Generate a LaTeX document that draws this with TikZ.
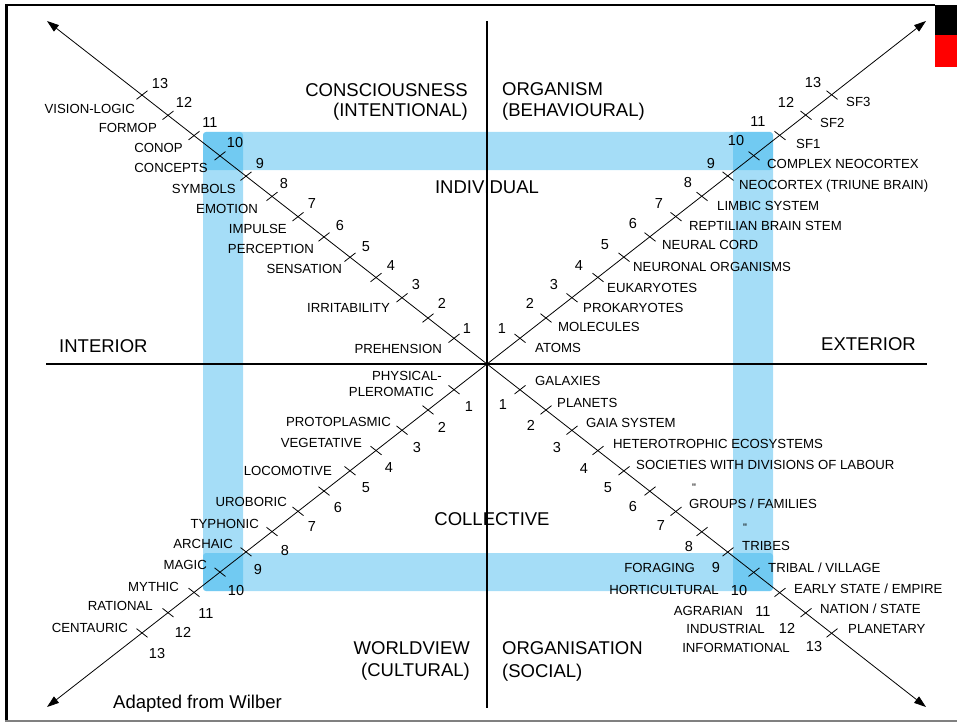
\documentclass[tikz,border=0pt]{standalone}
\usepackage{fontspec}
\setmainfont{Liberation Sans}
\newfontfamily\qfont{Liberation Sans}[Ligatures=TeXOff]
\usetikzlibrary{arrows.meta,calc}
\begin{document}
\begin{tikzpicture}[x=1pt,y=-1pt,
  big/.style={font=\fontsize{18.5}{20}\selectfont, inner sep=0pt, yshift=-6.6pt},
  lab/.style={font=\fontsize{13.2}{14}\selectfont, inner sep=0pt, yshift=-4.7pt},
  num/.style={font=\fontsize{14.5}{16}\selectfont, inner sep=0pt, anchor=base, yshift=-5.2pt},
  band/.style={fill={rgb,255:red,40;green,175;blue,235}, fill opacity=0.42, rounded corners=3pt},
  axisline/.style={line width=2pt},
  diag/.style={line width=0.8pt, -{Triangle[length=12pt,width=8pt]}},
  tickmark/.style={line width=0.8pt}]
\useasboundingbox (0,0) rectangle (957,722);
% frame
\draw[line width=2pt] (6,5.5) -- (935,5.5);
\draw[line width=3pt] (6.5,4.5) -- (6.5,721);
\draw[line width=2pt, gray] (5,720.5) -- (957,720.5);
\fill[black] (935,5) rectangle (957,35);
\fill[red] (935,35) rectangle (957,67);
% blue band
\fill[band] (203,132) rectangle (773,170);
\fill[band] (203,553) rectangle (773,591);
\fill[band] (203,132) rectangle (243,591);
\fill[band] (733,132) rectangle (773,591);
% axes
\coordinate (C) at (487,364);
\coordinate (Vt) at (487,21);
\coordinate (Vb) at (487,708);
\coordinate (Hl) at (46,364);
\coordinate (Hr) at (927,364);
\draw[axisline] (Vt) -- (Vb);
\draw[axisline] (Hl) -- (Hr);
\coordinate (TLend) at (47,21);
\coordinate (TRend) at (926,21);
\coordinate (BLend) at (47,707);
\coordinate (BRend) at (926,707);
\draw[diag] (C) -- (TLend);
\draw[diag] (C) -- (TRend);
\draw[diag] (C) -- (BLend);
\draw[diag] (C) -- (BRend);
% ticks
\foreach \k in {1,...,13}{
  \pgfmathsetmacro\dx{33+26*(\k-1)}
  \pgfmathsetmacro\dy{25.7+20.27*(\k-1)}
  \coordinate (tl\k) at (487-\dx,364-\dy);
  \coordinate (tr\k) at (487+\dx,364-\dy);
  \coordinate (bl\k) at (487-\dx,364+\dy);
  \coordinate (br\k) at (487+\dx,364+\dy);
  \draw[tickmark] ($(tl\k)+(5.5,-4.3)$) -- ($(tl\k)+(-5.5,4.3)$);
  \draw[tickmark] ($(br\k)+(5.5,-4.3)$) -- ($(br\k)+(-5.5,4.3)$);
  \draw[tickmark] ($(tr\k)+(5.5,4.3)$) -- ($(tr\k)+(-5.5,-4.3)$);
  \draw[tickmark] ($(bl\k)+(5.5,4.3)$) -- ($(bl\k)+(-5.5,-4.3)$);
}
% big labels
\node[big, anchor=base east] (cons) at (468,90) {CONSCIOUSNESS};
\node[big, anchor=base east] (inten) at (468,110) {(INTENTIONAL)};
\node[big, anchor=base west] (orgm) at (502,89) {ORGANISM};
\node[big, anchor=base west] (behav) at (502,110) {(BEHAVIOURAL)};
\node[big, anchor=base] (indiv) at (487,187) {INDIVIDUAL};
\node[big, anchor=base] (coll) at (492,519) {COLLECTIVE};
\node[big, anchor=base west] (inter) at (59,346) {INTERIOR};
\node[big, anchor=base west] (exter) at (821,344) {EXTERIOR};
\node[big, anchor=base east] (world) at (470,648) {WORLDVIEW};
\node[big, anchor=base east] (cult) at (470,670) {(CULTURAL)};
\node[big, anchor=base west] (orgn) at (502,648) {ORGANISATION};
\node[big, anchor=base west] (soc) at (502,671) {(SOCIAL)};
\node[big, anchor=base west] (adapt) at (113,702) {Adapted from Wilber};
% top-left
\foreach \t/\x/\y [count=\i] in {{VISION-LOGIC}/135/109, {FORMOP}/157/128, {CONOP}/183/148,
  {CONCEPTS}/208/168, {SYMBOLS}/236/189, {EMOTION}/258/209, {IMPULSE}/287/229,
  {PERCEPTION}/314/249, {SENSATION}/342/269, {IRRITABILITY}/390/308, {PREHENSION}/442/349}
  \node[lab, anchor=base east] (tlL\i) at (\x,\y) {\t};
\foreach \n/\x/\y in {13/160/83, 12/184/102, 11/210/122, 10/235/142, 9/260/163, 8/284/183,
  7/312/203, 6/340/225, 5/366/246, 4/391/265, 3/416/284, 2/442/303, 1/467/328}
  \node[num] (tlN\n) at (\x,\y) {\n};
% top-right
\foreach \t/\x/\y [count=\i] in {{SF3}/846/102, {SF2}/820/123, {SF1}/796/144,
  {COMPLEX NEOCORTEX}/767/164, {NEOCORTEX (TRIUNE BRAIN)}/739/185, {LIMBIC SYSTEM}/717/206,
  {REPTILIAN BRAIN STEM}/689/226, {NEURAL CORD}/662/245, {NEURONAL ORGANISMS}/633/267,
  {EUKARYOTES}/607/288, {PROKARYOTES}/583/308, {MOLECULES}/558/327, {ATOMS}/535/348}
  \node[lab, anchor=base west] (trL\i) at (\x,\y) {\t};
\foreach \n/\x/\y in {13/813/82, 12/786/102, 11/758/121, 10/736/140, 9/711/163, 8/688/182,
  7/659/203, 6/633/223, 5/605/244, 4/579/265, 3/554/284, 2/530/303, 1/502/328}
  \node[num] (trN\n) at (\x,\y) {\n};
% bottom-left
\foreach \t/\x/\y [count=\i] in {{PHYSICAL-}/442/376, {PLEROMATIC}/434/392, {PROTOPLASMIC}/391/422,
  {VEGETATIVE}/362/443, {LOCOMOTIVE}/332/471, {UROBORIC}/287/502, {TYPHONIC}/259/524,
  {ARCHAIC}/233/544, {MAGIC}/207/565, {MYTHIC}/179/587, {RATIONAL}/153/606, {CENTAURIC}/128/628}
  \node[lab, anchor=base east] (blL\i) at (\x,\y) {\t};
\foreach \n/\x/\y in {1/469/406, 2/442/427, 3/417/447, 4/389/467, 5/366/487, 6/338/507,
  7/312/526, 8/285/550, 9/258/569, 10/236/590, 11/206/613, 12/183/632, 13/157/653}
  \node[num] (blN\n) at (\x,\y) {\n};
% bottom-right
\foreach \t/\x/\y [count=\i] in {{GALAXIES}/535/381, {PLANETS}/557/403, {GAIA SYSTEM}/586/423,
  {HETEROTROPHIC ECOSYSTEMS}/613/444, {SOCIETIES WITH DIVISIONS OF LABOUR}/636/465,
  {GROUPS / FAMILIES}/689/504, {TRIBES}/742/546, {TRIBAL / VILLAGE}/768/568,
  {EARLY STATE / EMPIRE}/794/589, {NATION / STATE}/820/609, {PLANETARY}/848/629}
  \node[lab, anchor=base west] (brL\i) at (\x,\y) {\t};
\foreach \t/\x/\y [count=\i] in {{FORAGING}/695/568, {HORTICULTURAL}/719/590, {AGRARIAN}/743/611,
  {INDUSTRIAL}/765/629, {INFORMATIONAL}/790/648}
  \node[lab, anchor=base east] (brR\i) at (\x,\y) {\t};
\node[lab, anchor=base, font=\qfont\fontsize{11}{12}\selectfont] (ditto1) at (694,487) {"};
\node[lab, anchor=base, font=\qfont\fontsize{11}{12}\selectfont] (ditto2) at (745,527) {"};
\foreach \n/\x/\y in {1/503/404, 2/531/425, 3/557/447, 4/584/468, 5/608/487, 6/633/506,
  7/661/525, 8/689/546, 9/716/567, 10/739/590, 11/763/611, 12/787/628, 13/814/646}
  \node[num] (brN\n) at (\x,\y) {\n};
\end{tikzpicture}
\end{document}
